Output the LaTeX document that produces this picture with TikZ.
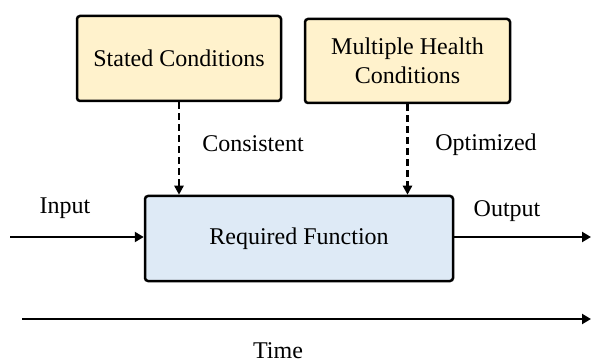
\documentclass[tikz,border=0pt]{standalone}
\usepackage{fontspec}
\setmainfont{Liberation Serif}
\usetikzlibrary{arrows.meta}
\definecolor{boxyellow}{HTML}{FFF2CC}
\definecolor{boxblue}{HTML}{DEEAF6}
\tikzset{
  condbox/.style={draw=black, line width=2.5pt, rounded corners=3pt, fill=boxyellow, minimum width=204pt, minimum height=85pt, align=center, inner sep=0pt, font=\fontsize{24}{29}\selectfont},
  funcbox/.style={draw=black, line width=2.5pt, rounded corners=3pt, fill=boxblue, minimum width=308pt, minimum height=85pt, inner sep=0pt, font=\fontsize{24}{29}\selectfont},
  lbl/.style={inner sep=0pt, anchor=base, font=\fontsize{24}{29}\selectfont},
  dasharrow/.style={line width=2.3pt, dash pattern=on 7pt off 4pt, -{Triangle[length=9pt,width=9pt]}},
  solidarrow/.style={line width=2.8pt, -{Triangle[length=9pt,width=10pt]}}
}
\begin{document}
\begin{tikzpicture}[x=1pt,y=-1pt]
\useasboundingbox (0,0) rectangle (591,363);
\node[condbox] (sc) at (179,58.5) {Stated Conditions};
\node[condbox, minimum width=205pt, minimum height=84pt] (mh) at (407.5,61) {Multiple Health\\Conditions};
\node[funcbox] (rf) at (299,238.5) {\raisebox{-1.5pt}{Required Function}};
\draw[dasharrow] (sc.south) -- (sc.south |- rf.north);
\draw[dasharrow] (mh.south) -- (mh.south |- rf.north);
\node[lbl] (cons) at (253,152) {Consistent};
\node[lbl] (opt) at (486,151) {Optimized};
\coordinate (in) at (10,237);
\coordinate (out) at (591,237);
\draw[solidarrow] (in) -- (in -| rf.west);
\draw[solidarrow] (out -| rf.east) -- (out);
\node[lbl] (inl) at (65,214) {Input};
\node[lbl] (outl) at (507,217) {Output};
\coordinate (t0) at (22,319);
\coordinate (t1) at (591,319);
\draw[solidarrow] (t0) -- (t1);
\node[lbl] (time) at (278,358.5) {Time};
\end{tikzpicture}
\end{document}
